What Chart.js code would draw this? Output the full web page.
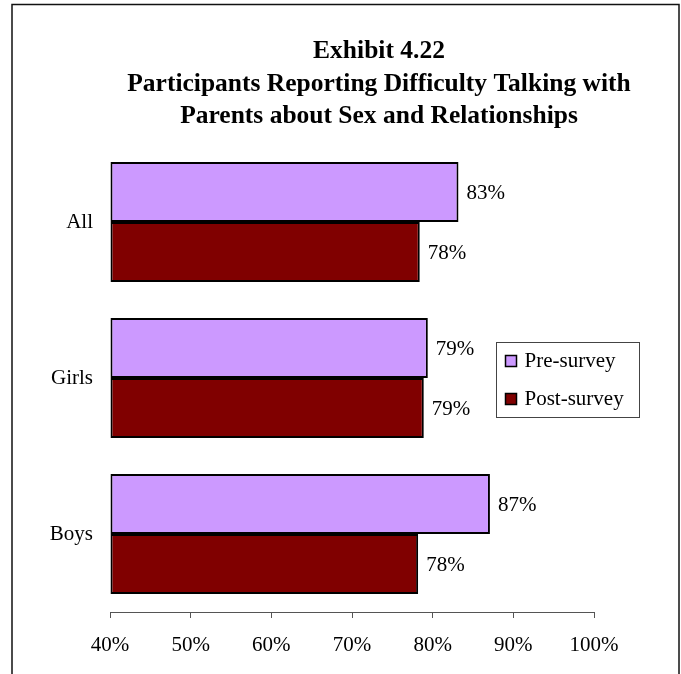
<!DOCTYPE html>
<html>
<head>
<meta charset="utf-8">
<script src="https://cdn.jsdelivr.net/npm/chart.js@4.4.1/dist/chart.umd.min.js"></script>
<style>
  html, body { margin: 0; padding: 0; background: #fff; }
  #wrap { position: relative; width: 681px; height: 674px; }
</style>
</head>
<body>
<div id="wrap"><canvas id="chart" width="681" height="674"></canvas></div>
<script>
// Chart data
const categories = ['All', 'Girls', 'Boys'];
const preSurvey = [83.2, 79.4, 87.1];
const postSurvey = [78.4, 78.9, 78.2];
const seriesNames = ['Pre-survey', 'Post-survey'];
const titleLines = ['Exhibit 4.22', 'Participants Reporting Difficulty Talking with', 'Parents about Sex and Relationships'];
const axisMin = 40;
const axisMax = 100;
const axisStep = 10;

const FONT = '"Liberation Serif", "Times New Roman", serif';
const PRE_COLOR = '#CC99FF';
const POST_COLOR = '#800000';

// frame, white background and the 3-line bold title
const framePlugin = {
  id: 'frame',
  beforeDraw(chart) {
    const ctx = chart.ctx;
    ctx.save();
    ctx.fillStyle = '#fff';
    ctx.fillRect(0, 0, chart.width, chart.height);
    ctx.strokeStyle = '#111';
    ctx.lineWidth = 1.5;
    ctx.strokeRect(12, 4.5, 667, chart.height + 10);
    ctx.fillStyle = '#000';
    ctx.font = 'bold 25.5px ' + FONT;
    ctx.textAlign = 'center';
    ctx.textBaseline = 'alphabetic';
    titleLines.forEach((line, i) => {
      ctx.fillText(line, 379, 58 + i * 32.6);
    });
    ctx.restore();
  }
};

// value labels at the end of each bar
const valueLabels = {
  id: 'valueLabels',
  afterDatasetsDraw(chart) {
    const ctx = chart.ctx;
    ctx.save();
    ctx.font = '21px ' + FONT;
    ctx.fillStyle = '#000';
    ctx.textAlign = 'left';
    ctx.textBaseline = 'middle';
    chart.data.datasets.forEach((ds, di) => {
      chart.getDatasetMeta(di).data.forEach((bar, i) => {
        ctx.fillText(Math.round(ds.data[i]) + '%', bar.x + 8, bar.y + 1);
      });
    });
    ctx.restore();
  }
};

// boxed legend sitting inside the plot area, like the Excel original
const boxLegend = {
  id: 'boxLegend',
  afterDraw(chart) {
    const ctx = chart.ctx;
    const x = 496.5, y = 342.5, w = 143, h = 75;
    ctx.save();
    ctx.fillStyle = '#fff';
    ctx.fillRect(x, y, w, h);
    ctx.strokeStyle = '#444';
    ctx.lineWidth = 1;
    ctx.strokeRect(x, y, w, h);
    ctx.font = '21px ' + FONT;
    ctx.textBaseline = 'middle';
    chart.data.datasets.forEach((ds, i) => {
      const cy = y + 19 + i * 38;
      ctx.fillStyle = ds.backgroundColor;
      ctx.fillRect(x + 9, cy - 6, 11, 11);
      ctx.strokeStyle = '#000';
      ctx.lineWidth = 1.5;
      ctx.strokeRect(x + 9, cy - 6, 11, 11);
      ctx.fillStyle = '#000';
      ctx.fillText(ds.label, x + 28, cy);
    });
    ctx.restore();
  }
};

new Chart(document.getElementById('chart'), {
  type: 'bar',
  data: {
    labels: categories,
    datasets: [
      {
        label: seriesNames[0],
        data: preSurvey,
        base: axisMin,
        backgroundColor: PRE_COLOR,
        borderColor: '#000',
        borderWidth: 2,
        borderSkipped: false,
        clip: false
      },
      {
        label: seriesNames[1],
        data: postSurvey,
        base: axisMin,
        backgroundColor: POST_COLOR,
        borderColor: '#000',
        borderWidth: 2,
        borderSkipped: false,
        clip: false
      }
    ]
  },
  options: {
    indexAxis: 'y',
    responsive: false,
    animation: false,
    devicePixelRatio: 1,
    categoryPercentage: 120 / 156,
    barPercentage: 1,
    layout: { padding: { top: 144, left: 0, right: 87, bottom: 0 } },
    plugins: {
      legend: { display: false },
      title: { display: false },
      tooltip: { enabled: false }
    },
    scales: {
      x: {
        min: axisMin,
        max: axisMax,
        afterFit(scale) { scale.height = 62; },
        grid: { drawOnChartArea: false, drawTicks: true, tickLength: 6, color: '#555' },
        border: { display: true, color: '#555', width: 1 },
        ticks: {
          stepSize: axisStep,
          padding: 15,
          color: '#000',
          font: { family: FONT, size: 21 },
          callback: (v) => v + '%'
        }
      },
      y: {
        afterFit(scale) { scale.width = 110; },
        grid: { display: false, drawTicks: false },
        border: { display: false },
        ticks: {
          padding: 17,
          color: '#000',
          font: { family: FONT, size: 21 }
        }
      }
    }
  },
  plugins: [framePlugin, valueLabels, boxLegend]
});
</script>
</body>
</html>
